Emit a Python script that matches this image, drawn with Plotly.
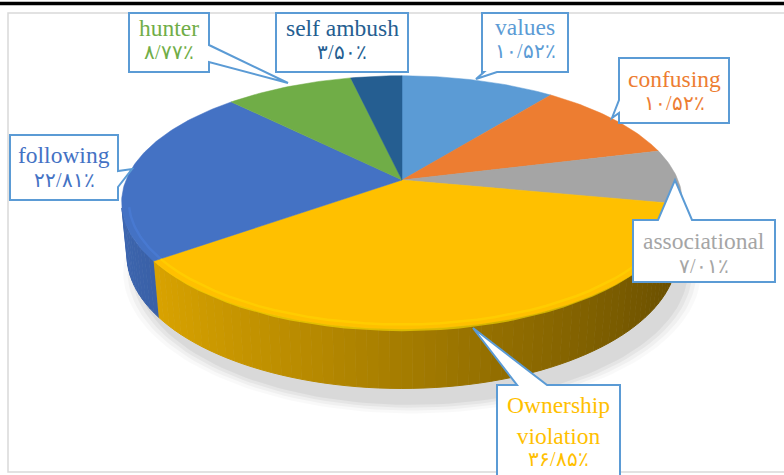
import numpy as np
import plotly.graph_objects as go

# ---------------- data ----------------
categories = ["values", "confusing", "associational", "Ownership violation",
              "following", "hunter", "self ambush"]
shares = [10.52, 10.52, 7.01, 36.85, 22.81, 8.77, 3.50]
slice_colors = ["#5b9bd5", "#ed7d31", "#a5a5a5", "#ffc000",
                "#4472c4", "#70ad47", "#255e91"]
label_text = ["values", "confusing", "associational", "Ownership<br>violation",
              "following", "hunter", "self ambush"]

# ---------------- geometry (3D perspective pie) ----------------
CX, CY, K = 402.0, 180.0, 276.0
R_OVER_D = 0.197
SIN_T, COS_T = 0.4444, 0.896
DEPTH = 0.214
VIS = -0.22  # side faces camera when cos(theta) < VIS


def project(theta, H=0.0, k=1.0):
    X = k * np.sin(theta)
    Z = k * np.cos(theta)
    w = 1 + R_OVER_D * (Z * COS_T - H * SIN_T)
    u = Z * SIN_T + H * COS_T
    return CX + K * X / w, CY - K * u / w


def hex_rgb(h):
    h = h.lstrip("#")
    return tuple(int(h[i:i + 2], 16) for i in (0, 2, 4))


def shade(h, f):
    r, g, b = hex_rgb(h)
    return "rgb(%d,%d,%d)" % (min(255, r * f), min(255, g * f), min(255, b * f))


persian = str.maketrans("0123456789.", "۰۱۲۳۴۵۶۷۸۹/")


def pct(v):
    return ("%.2f" % v).translate(persian) + "٪"


fig = go.Figure()

# soft shadow under the pie
for k, a in [(1.05, 0.025), (1.035, 0.035), (1.02, 0.045), (1.005, 0.05)]:
    t = np.linspace(0, 2 * np.pi, 200)
    sx, sy = project(t, -DEPTH - 0.02, k)
    fig.add_trace(go.Scatter(x=sx + 10, y=sy + 10, fill="toself", mode="lines",
                             line=dict(width=0), fillcolor="rgba(0,0,0,%.3f)" % a,
                             hoverinfo="skip", showlegend=False))

total = sum(shares)
bounds = np.concatenate([[0], np.cumsum(shares)]) / total * 2 * np.pi
lo_vis = np.arccos(VIS)
hi_vis = 2 * np.pi - lo_vis

# side walls
for i, c in enumerate(slice_colors):
    a0, a1 = max(bounds[i], lo_vis), min(bounds[i + 1], hi_vis)
    if a1 <= a0:
        continue
    n = max(1, int(np.ceil((a1 - a0) / np.radians(2))))
    edges = np.linspace(a0, a1, n + 1)
    for j in range(n):
        tt = np.linspace(edges[j], edges[j + 1], 4)
        xt, yt = project(tt, 0.0)
        xb, yb = project(tt[::-1], -DEPTH)
        mid = 0.5 * (edges[j] + edges[j + 1])
        f = 0.65 - 0.25 * np.sin(mid)
        col = shade(c, f)
        fig.add_trace(go.Scatter(x=np.concatenate([xt, xb]), y=np.concatenate([yt, yb]),
                                 fill="toself", mode="lines", line=dict(width=1, color=col),
                                 fillcolor=col, hoverinfo="skip", showlegend=False))
    # bevel highlight along the front rim
    tt = np.linspace(a0, a1, 40)
    hx, hy = project(tt, -0.012, 0.985)
    fig.add_trace(go.Scatter(x=hx, y=hy, mode="lines",
                             line=dict(width=3, color=shade(c, 1.18)),
                             opacity=0.6, hoverinfo="skip", showlegend=False))

# top faces
for i, c in enumerate(slice_colors):
    tt = np.linspace(bounds[i], bounds[i + 1], max(3, int(shares[i] * 4)))
    rx, ry = project(tt, 0.0)
    ax, ay = project(np.array([0.0]), 0.0, 0.0)
    fig.add_trace(go.Scatter(x=np.concatenate([ax, rx, ax]), y=np.concatenate([ay, ry, ay]),
                             fill="toself", mode="lines", line=dict(width=0.5, color=c),
                             fillcolor=c, name=categories[i], hoverinfo="name",
                             showlegend=False))

# bevel highlight on the top face near the front rim
for i, c in enumerate(slice_colors):
    a0, a1 = max(bounds[i], lo_vis), min(bounds[i + 1], hi_vis)
    if a1 <= a0:
        continue
    tt = np.linspace(a0, a1, 40)
    hx, hy = project(tt, 0.0, 0.975)
    fig.add_trace(go.Scatter(x=hx, y=hy, mode="lines",
                             line=dict(width=2.5, color=shade(c, 1.15)),
                             opacity=0.45, hoverinfo="skip", showlegend=False))

# ---------------- callouts (layout) ----------------
callouts = [
    dict(box=(482, 13, 568, 72), side="bottom", a=484, b=497, tip=(476, 79), ty=(27, 51)),
    dict(box=(619, 58, 729, 123), side="left", a=100, b=113, tip=(612, 118), ty=(79, 103)),
    dict(box=(633, 220, 775, 282), side="top", a=658, b=692, tip=(675, 180), ty=(241, 266)),
    dict(box=(497, 385, 620, 490), side="top", a=517, b=547, tip=(473, 328), ty=(420, 459)),
    dict(box=(10, 135, 118, 200), side="right", a=171, b=187, tip=(132, 169), ty=(155, 180)),
    dict(box=(129, 13, 209, 72), side="right", a=45, b=62, tip=(288, 83), ty=(28, 52)),
    dict(box=(276, 13, 408, 72), side=None, a=0, b=0, tip=(0, 0), ty=(28, 52)),
]


def callout_path(cd):
    x0, y0, x1, y1 = cd["box"]
    s, a, b = cd["side"], cd["a"], cd["b"]
    tx, ty = cd["tip"]
    p = [(x0, y0)]
    if s == "top":
        p += [(a, y0), (tx, ty), (b, y0)]
    p += [(x1, y0)]
    if s == "right":
        p += [(x1, a), (tx, ty), (x1, b)]
    p += [(x1, y1)]
    if s == "bottom":
        p += [(b, y1), (tx, ty), (a, y1)]
    p += [(x0, y1)]
    if s == "left":
        p += [(x0, b), (tx, ty), (x0, a)]
    return "M " + " L ".join("%g,%g" % q for q in p) + " Z"


shapes = []
annotations = []
FONT = "Liberation Serif, serif"
for i, cd in enumerate(callouts):
    shapes.append(dict(type="path", path=callout_path(cd), xref="x", yref="y",
                       line=dict(color="#5b9bd5", width=2), fillcolor="white",
                       layer="above"))
    x0, y0, x1, y1 = cd["box"]
    xm = 0.5 * (x0 + x1)
    annotations.append(dict(x=xm, y=cd["ty"][0], xref="x", yref="y", text=label_text[i],
                            showarrow=False, font=dict(family=FONT, size=23.5, color=slice_colors[i]),
                            xanchor="center", yanchor="middle"))
    annotations.append(dict(x=xm, y=cd["ty"][1], xref="x", yref="y", text=pct(shares[i]),
                            showarrow=False, font=dict(family=FONT, size=20, color=slice_colors[i]),
                            xanchor="center", yanchor="middle"))

# page decorations: thick top rule and chart border
shapes.insert(0, dict(type="rect", x0=8, y0=13, x1=800, y1=472, xref="x", yref="y",
                      line=dict(color="#d9d9d9", width=1.5), layer="below"))
shapes.append(dict(type="line", x0=0, y0=3.5, x1=784, y1=3.5, xref="x", yref="y",
                   line=dict(color="black", width=3.5)))

fig.update_layout(
    width=784, height=475,
    margin=dict(l=0, r=0, t=0, b=0),
    paper_bgcolor="white", plot_bgcolor="white",
    xaxis=dict(range=[0, 784], visible=False, fixedrange=True),
    yaxis=dict(range=[475, 0], visible=False, fixedrange=True),
    shapes=shapes, annotations=annotations,
    showlegend=False,
)

fig.write_html("out.html", config={"displayModeBar": False},
               post_script="document.body.style.margin='0';")
